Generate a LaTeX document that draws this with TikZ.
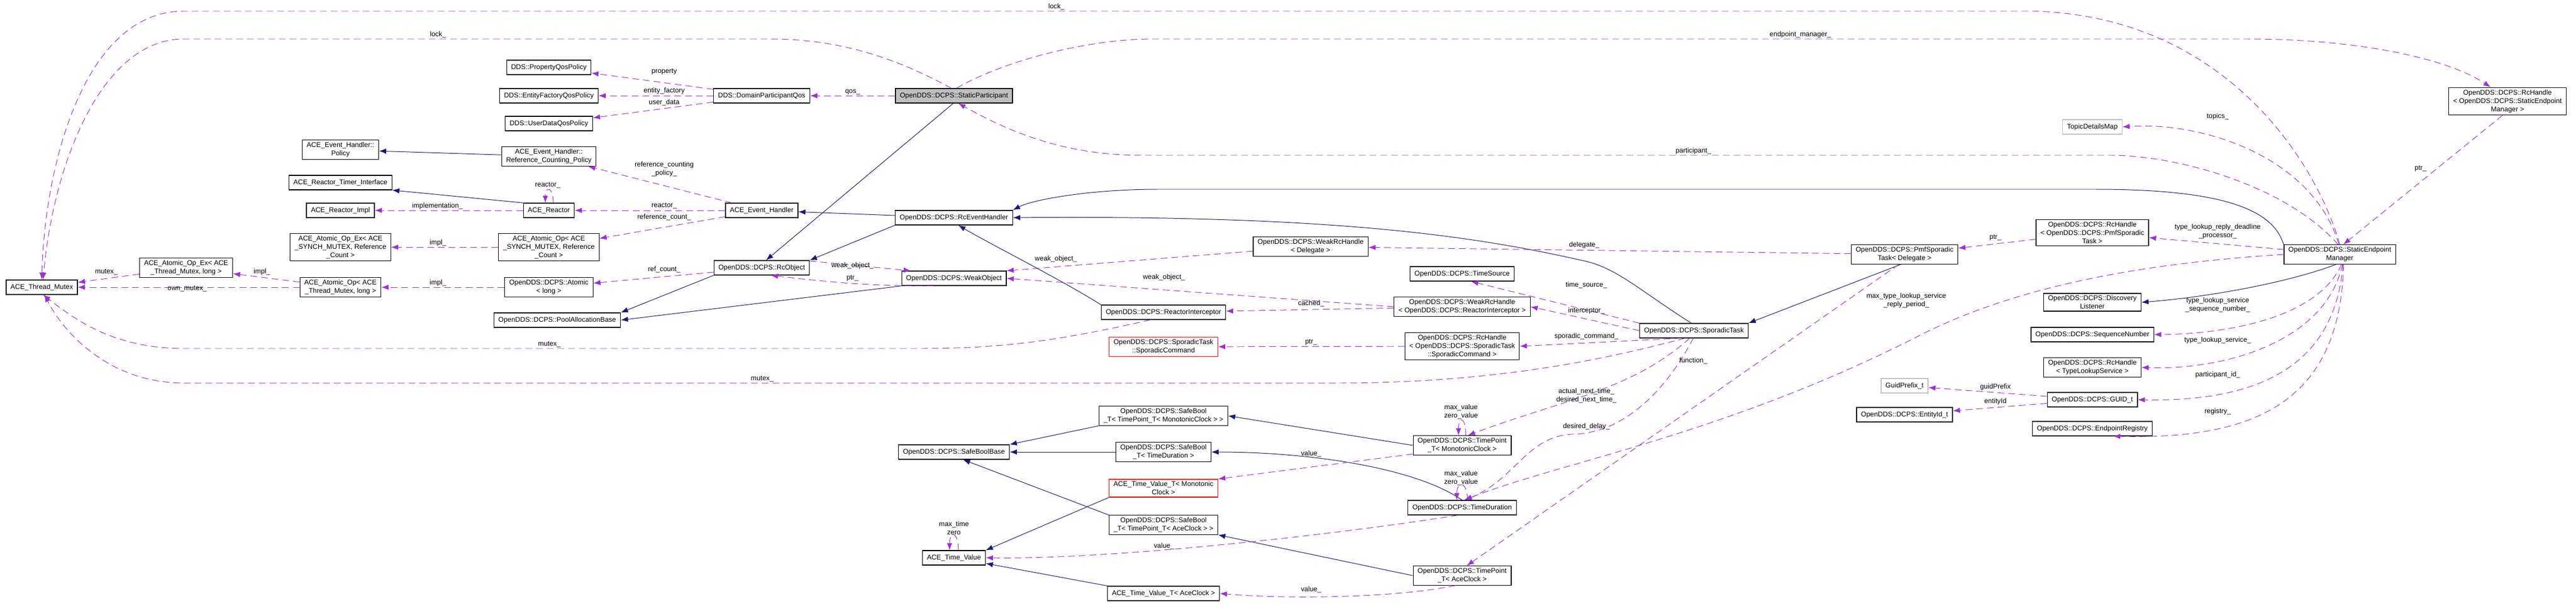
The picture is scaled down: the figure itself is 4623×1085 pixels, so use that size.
\documentclass[tikz,border=0pt]{standalone}
\usepackage{fontspec}
\setmainfont{Liberation Sans}
\usetikzlibrary{positioning, arrows.meta}
\definecolor{usecol}{HTML}{9A32CD}
\definecolor{inhcol}{HTML}{191970}

\begin{document}
\begin{tikzpicture}[
    % GLOBAL CFG
    x=0.025cm, y=-0.025cm,
    font=\fontsize{8.8}{10.7}\selectfont,
    % Styles
    cls/.style={% For class boxes
        rectangle,
        draw=black,
        line width=0.9pt,
        fill=white,
        minimum height=0.65cm,
        inner xsep=0.2cm,
        inner ysep=0.1cm,
        align=center,
    },
    rootcls/.style={% For the class of the graph
        cls,
        fill=black!25,
    },
    extcls/.style={% For undocumented classes
        cls,
        draw=black!25,
    },
    redcls/.style={% For truncated classes
        cls,
        draw=red,
    },
    inh/.style={% Inheritance
        draw=inhcol,
        line width=0.7pt,
        -{Latex[length=0.32cm,width=0.24cm]},
    },
    use/.style={% Usage
        draw=usecol,
        line width=0.7pt,
        dash pattern=on 0.3cm off 0.18cm,
        -{Latex[length=0.32cm,width=0.24cm]},
    },
    lbl/.style={
        align=center,
        inner sep=1pt,
    },
    ]

    \useasboundingbox (0,0) rectangle (4623,1085);

    % Draw ACE classes
    \node [cls] (mutex) at (75,516) {ACE\_Thread\_Mutex};
    \node [cls] (opextm) at (334,481) {ACE\_Atomic\_Op\_Ex< ACE\\\_Thread\_Mutex, long >};
    \node [cls] (optm) at (611,516) {ACE\_Atomic\_Op< ACE\\\_Thread\_Mutex, long >};
    \node [cls] (opexsync) at (611,444) {ACE\_Atomic\_Op\_Ex< ACE\\\_SYNCH\_MUTEX, Reference\\\_Count >};
    \node [cls] (policy) at (611,269) {ACE\_Event\_Handler::\\Policy};
    \node [cls] (timerif) at (611,328) {ACE\_Reactor\_Timer\_Interface};
    \node [cls] (reactorimpl) at (611,378) {ACE\_Reactor\_Impl};
    \node [cls] (rcpolicy) at (985,281) {ACE\_Event\_Handler::\\Reference\_Counting\_Policy};
    \node [cls] (reactor) at (985,378) {ACE\_Reactor};
    \node [cls] (opsync) at (985,444) {ACE\_Atomic\_Op< ACE\\\_SYNCH\_MUTEX, Reference\\\_Count >};
    \node [cls] (evh) at (1367,378) {ACE\_Event\_Handler};
    \node [cls] (atv) at (1712,1002) {ACE\_Time\_Value};
    \node [redcls] (atvmono) at (2088,877) {ACE\_Time\_Value\_T< Monotonic\\Clock >};
    \node [cls] (atvace) at (2088,1066) {ACE\_Time\_Value\_T< AceClock >};

    % Draw DDS classes
    \node [cls] (propqos) at (985,121) {DDS::PropertyQosPolicy};
    \node [cls] (efqos) at (985,172) {DDS::EntityFactoryQosPolicy};
    \node [cls] (udqos) at (985,222) {DDS::UserDataQosPolicy};
    \node [cls] (dpqos) at (1367,172) {DDS::DomainParticipantQos};

    % Draw OpenDDS classes
    \node [cls] (atomiclong) at (985,516) {OpenDDS::DCPS::Atomic\\< long >};
    \node [cls] (pool) at (1000,575) {OpenDDS::DCPS::PoolAllocationBase};
    \node [cls] (rcobj) at (1367,481) {OpenDDS::DCPS::RcObject};
    \node [rootcls] (sp) at (1712,172) {OpenDDS::DCPS::StaticParticipant};
    \node [cls] (rceh) at (1712,391) {OpenDDS::DCPS::RcEventHandler};
    \node [cls] (weakobj) at (1712,500) {OpenDDS::DCPS::WeakObject};
    \node [cls] (sbbase) at (1712,812) {OpenDDS::DCPS::SafeBoolBase};
    \node [cls] (wrhdel) at (2352,443) {OpenDDS::DCPS::WeakRcHandle\\< Delegate >};
    \node [cls] (rinter) at (2088,561) {OpenDDS::DCPS::ReactorInterceptor};
    \node [redcls] (spcmd) at (2088,623) {OpenDDS::DCPS::SporadicTask\\::SporadicCommand};
    \node [cls] (sbmono) at (2088,747) {OpenDDS::DCPS::SafeBool\\\_T< TimePoint\_T< MonotonicClock > >};
    \node [cls] (sbdur) at (2088,812) {OpenDDS::DCPS::SafeBool\\\_T< TimeDuration >};
    \node [cls] (sbace) at (2088,943) {OpenDDS::DCPS::SafeBool\\\_T< TimePoint\_T< AceClock > >};
    \node [cls] (timesrc) at (2624,492) {OpenDDS::DCPS::TimeSource};
    \node [cls] (wrhri) at (2624,551) {OpenDDS::DCPS::WeakRcHandle\\< OpenDDS::DCPS::ReactorInterceptor >};
    \node [cls] (rhcmd) at (2624,622) {OpenDDS::DCPS::RcHandle\\< OpenDDS::DCPS::SporadicTask\\::SporadicCommand >};
    \node [cls] (tpmono) at (2624,800) {OpenDDS::DCPS::TimePoint\\\_T< MonotonicClock >};
    \node [cls] (tdur) at (2624,912) {OpenDDS::DCPS::TimeDuration};
    \node [cls] (tpace) at (2624,1034) {OpenDDS::DCPS::TimePoint\\\_T< AceClock >};
    \node [cls] (task) at (3040,594) {OpenDDS::DCPS::SporadicTask};
    \node [cls] (pmf) at (3418,457) {OpenDDS::DCPS::PmfSporadic\\Task< Delegate >};
    \node [extcls] (guidprefix) at (3418,693) {GuidPrefix\_t};
    \node [cls] (entityid) at (3418,745) {OpenDDS::DCPS::EntityId\_t};
    \node [extcls] (topics) at (3755,228) {TopicDetailsMap};
    \node [cls] (rhpmf) at (3755,418) {OpenDDS::DCPS::RcHandle\\< OpenDDS::DCPS::PmfSporadic\\Task >};
    \node [cls] (disc) at (3755,543) {OpenDDS::DCPS::Discovery\\Listener};
    \node [cls] (seqnum) at (3755,601) {OpenDDS::DCPS::SequenceNumber};
    \node [cls] (rhtls) at (3755,660) {OpenDDS::DCPS::RcHandle\\< TypeLookupService >};
    \node [cls] (guid) at (3755,718) {OpenDDS::DCPS::GUID\_t};
    \node [cls] (registry) at (3755,770) {OpenDDS::DCPS::EndpointRegistry};
    \node [cls] (sem) at (4199,457) {OpenDDS::DCPS::StaticEndpoint\\Manager};
    \node [cls] (rhsem) at (4500,182) {OpenDDS::DCPS::RcHandle\\< OpenDDS::DCPS::StaticEndpoint\\Manager >};

    % Connect all
    % Inheritance
    \draw [inh] (sp.265) -- (rcobj.60);
    \draw [inh] (rceh) -- (evh);
    \draw [inh] (rceh.south west) -- (rcobj.north east);
    \draw [inh] (rcpolicy) -- (policy);
    \draw [inh] (reactor.north west) -- (timerif.south east);
    \draw [inh] (rcobj.south west) -- (pool.north east);
    \draw [inh] (weakobj.south west) -- (pool.east);
    \draw [inh] (rinter.north west) .. controls (1900,500) and (1780,440) .. (rceh.-60);
    \draw [inh] (task.110) .. controls (2940,520) and (2900,480) .. (2840,468)
        .. controls (2650,425) and (2400,386) .. (rceh.east);
    \draw [inh] (sem.north west) .. controls (4080,380) and (4000,340) .. (3760,340)
        -- (2080,340) .. controls (1950,340) and (1850,360) .. (rceh.north east);
    \draw [inh] (pmf.250) -- (task.north east);
    \draw [inh] (sem.250) .. controls (4100,510) and (3950,535) .. (disc.east);
    \draw [inh] (sbmono.south west) -- (sbbase.north east);
    \draw [inh] (sbdur) -- (sbbase);
    \draw [inh] (sbace.north west) -- (sbbase.-40);
    \draw [inh] (tpmono.west) -- (sbmono.east);
    \draw [inh] (tdur.north) .. controls (2540,840) and (2350,812) .. (sbdur.east);
    \draw [inh] (tpace.west) -- (sbace.south east);
    \draw [inh] (atvmono.south west) -- (atv.north east);
    \draw [inh] (atvace.north west) -- (atv.-10);

    % Usage
    \draw [use] (sem.north) .. controls (4160,300) and (4000,30) .. (3650,20) -- (330,20)
        node [lbl, above] at (1896,20) {lock\_}
        .. controls (150,20) and (80,300) .. (mutex.north);
    \draw [use] (sp.110) .. controls (1600,100) and (1500,70) .. (1380,70) -- (330,70)
        node [lbl, above] at (786,70) {lock\_}
        .. controls (180,70) and (95,300) .. (mutex.80);
    \draw [use] (sp.70) .. controls (1800,110) and (1950,70) .. (2070,70) -- (4030,70)
        node [lbl, above] at (3231,70) {endpoint\_manager\_}
        .. controls (4250,70) and (4400,110) .. (rhsem.140);
    \draw [use] (sem.100) .. controls (4100,330) and (3900,279) .. (3790,279) -- (2050,279)
        node [lbl, above] at (3039,279) {participant\_}
        .. controls (1900,279) and (1800,230) .. (sp.300);
    \draw [use] (sem.95) .. controls (4150,280) and (3950,218) .. (topics.east)
        node [lbl] at (3980,209) {topics\_};
    \draw [use] (sp) -- node [lbl, above] {qos\_} (dpqos);
    \draw [use] (dpqos) -- (propqos) node [lbl] at (1192,129) {property};
    \draw [use] (dpqos) -- (efqos) node [lbl] at (1192,163) {entity\_factory};
    \draw [use] (dpqos) -- (udqos) node [lbl] at (1192,184) {user\_data};
    \draw [use] (evh) -- (rcpolicy) node [lbl] at (1192,304) {reference\_counting\\\_policy\_};
    \draw [use] (evh) -- (reactor) node [lbl] at (1192,370) {reactor\_};
    \draw [use] (evh) -- (opsync) node [lbl] at (1192,390) {reference\_count\_};
    \draw [use] (reactor) -- (reactorimpl) node [lbl] at (785,370) {implementation\_};
    \draw [use] (reactor.60) .. controls +(0,-30) and +(0,-30) .. (reactor.115)
        node [lbl] at (983,333) {reactor\_};
    \draw [use] (opsync) -- (opexsync) node [lbl] at (786,436) {impl\_};
    \draw [use] (atomiclong) -- (optm) node [lbl] at (786,508) {impl\_};
    \draw [use] (optm) -- (opextm) node [lbl] at (470,488) {impl\_};
    \draw [use] (optm) -- (mutex) node [lbl] at (336,519) {own\_mutex\_};
    \draw [use] (opextm) -- (mutex) node [lbl] at (191,489) {mutex\_};
    \draw [use] (rcobj) -- (atomiclong) node [lbl] at (1192,484) {ref\_count\_};
    \draw [use] (rcobj.8) -- (weakobj.170) node [lbl] at (1530,477) {weak\_object\_};
    \draw [use] (weakobj.200) .. controls (1560,514) and (1480,506) .. (rcobj.-40)
        node [lbl] at (1530,500) {ptr\_};
    \draw [use] (wrhdel) -- (weakobj.north east) node [lbl] at (1895,465) {weak\_object\_};
    \draw [use] (wrhri.west) -- (weakobj.east) node [lbl] at (2089,498) {weak\_object\_};
    \draw [use] (wrhri) -- (rinter) node [lbl] at (2353,545) {cached\_};
    \draw [use] (rinter.-150) .. controls (1900,612) and (1800,626) .. (1650,626) -- (330,626)
        node [lbl, above] at (986,626) {mutex\_}
        .. controls (200,626) and (130,570) .. (mutex.-80);
    \draw [use] (task.-140) .. controls (2900,640) and (2700,688) .. (2400,688) -- (330,688)
        node [lbl, above] at (1368,688) {mutex\_}
        .. controls (190,688) and (110,590) .. (mutex.-70);
    \draw [use] (rhcmd) -- (spcmd) node [lbl] at (2353,615) {ptr\_};
    \draw [use] (pmf) -- (wrhdel) node [lbl] at (2843,440) {delegate\_};
    \draw [use] (task.north west) -- (timesrc.-40) node [lbl] at (2847,512) {time\_source\_};
    \draw [use] (task.west) -- (wrhri.east) node [lbl] at (2847,558) {interceptor\_};
    \draw [use] (task.-150) -- (rhcmd.east) node [lbl] at (2847,604) {sporadic\_command\_};
    \draw [use] (task.-120) .. controls (2930,700) and (2800,720) .. (tpmono.60)
        node [lbl] at (2847,711) {actual\_next\_time\_\\desired\_next\_time\_};
    \draw [use] (task.-95) .. controls (2980,720) and (2900,780) .. (2820,780)
        .. controls (2740,785) and (2720,860) .. (tdur.70)
        node [lbl] at (2847,766) {desired\_delay\_};
    \draw [use] (pmf.-120) -- (tpace.65) node [lbl] at (3039,648) {function\_};
    \draw [use] (sem.west) .. controls (3900,470) and (3650,500) .. (3450,600)
        .. controls (3100,780) and (2800,830) .. (tdur.75)
        node [lbl] at (3421,540) {max\_type\_lookup\_service\\\_reply\_period\_};
    \draw [use] (rhpmf) -- (pmf) node [lbl] at (3581,427) {ptr\_};
    \draw [use] (sem) -- (rhpmf) node [lbl] at (3980,416) {type\_lookup\_reply\_deadline\\\_processor\_};
    \draw [use] (sem.-80) .. controls (4160,570) and (4000,600) .. (seqnum.east)
        node [lbl] at (3980,548) {type\_lookup\_service\\\_sequence\_number\_};
    \draw [use] (sem.-75) .. controls (4175,610) and (4000,665) .. (rhtls.east)
        node [lbl] at (3980,611) {type\_lookup\_service\_};
    \draw [use] (sem.-72) .. controls (4190,660) and (4050,722) .. (guid.east)
        node [lbl] at (3980,673) {participant\_id\_};
    \draw [use] (sem.-69) .. controls (4200,720) and (4050,790) .. (registry.-20)
        node [lbl] at (3980,739) {registry\_};
    \draw [use] (guid) -- (guidprefix) node [lbl] at (3581,695) {guidPrefix};
    \draw [use] (guid) -- (entityid) node [lbl] at (3581,721) {entityId};
    \draw [use] (rhsem.-110) -- (sem.70) node [lbl] at (4344,303) {ptr\_};
    \draw [use] (tpmono.190) -- (atvmono.north east) node [lbl] at (2353,815) {value\_};
    \draw [use] (tdur.-120) .. controls (2400,960) and (2000,1005) .. (atv.east)
        node [lbl] at (2089,981) {value\_};
    \draw [use] (tpace.-125) .. controls (2500,1075) and (2300,1076) .. (atvace.east)
        node [lbl] at (2353,1059) {value\_};
    \draw [use] (tpmono.70) .. controls +(0,-35) and +(0,-35) .. (tpmono.110)
        node [lbl] at (2622,740) {max\_value\\zero\_value};
    \draw [use] (tdur.55) .. controls +(0,-35) and +(0,-35) .. (tdur.125)
        node [lbl] at (2622,859) {max\_value\\zero\_value};
    \draw [use] (atv.60) .. controls +(0,-35) and +(0,-35) .. (atv.120)
        node [lbl] at (1712,949) {max\_time\\zero};

\end{tikzpicture}
\end{document}
